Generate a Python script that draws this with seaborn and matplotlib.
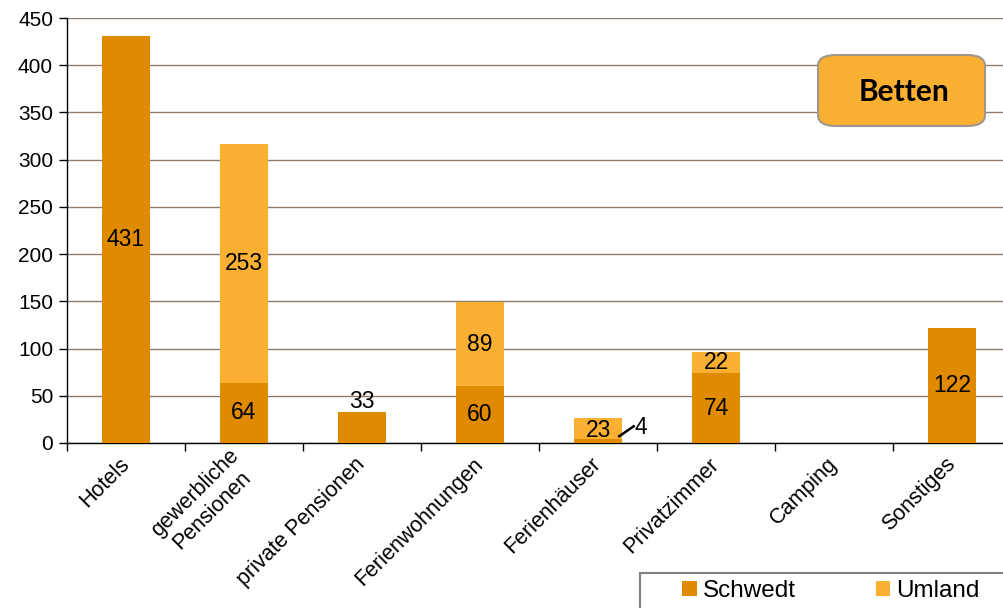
import matplotlib
matplotlib.use("Agg")
import matplotlib.pyplot as plt
import seaborn as sns
import pandas as pd
from matplotlib.patches import FancyBboxPatch, Patch, Rectangle

categories = ["Hotels", "gewerbliche\nPensionen", "private Pensionen", "Ferienwohnungen",
              "Ferienhäuser", "Privatzimmer", "Camping", "Sonstiges"]
schwedt = [431, 64, 33, 60, 4, 74, 0, 122]
umland = [0, 253, 0, 89, 23, 22, 0, 0]
yticks = [0, 50, 100, 150, 200, 250, 300, 350, 400, 450]

C_SCHWEDT = "#E08A00"
C_UMLAND = "#FBB034"

sns.set_theme(style="white")
plt.rcParams["font.family"] = ["Liberation Sans", "DejaVu Sans"]
plt.rcParams["text.color"] = "black"
plt.rcParams["xtick.color"] = "black"
plt.rcParams["ytick.color"] = "black"
plt.rcParams["xtick.labelcolor"] = "black"
plt.rcParams["ytick.labelcolor"] = "black"

df = pd.DataFrame({"cat": categories, "Schwedt": schwedt, "Umland": umland})
df["Total"] = df["Schwedt"] + df["Umland"]

fig = plt.figure(figsize=(10.04, 6.08), dpi=100)
ax = fig.add_axes([67/1004, 1-443/608, (1003-67)/1004, (443-18)/608])

bw = 0.41
sns.barplot(data=df, x="cat", y="Total", color=C_UMLAND, saturation=1, width=bw, ax=ax,
            zorder=2, linewidth=0, edgecolor="none")
sns.barplot(data=df, x="cat", y="Schwedt", color=C_SCHWEDT, saturation=1, width=bw, ax=ax,
            zorder=3, linewidth=0, edgecolor="none")

ax.set_xlim(-0.5, 7.43)
ax.set_ylim(0, 450)
ax.set_yticks(yticks)
ax.set_xlabel("")
ax.set_ylabel("")
ax.yaxis.grid(True, color="#8C7D6E", linewidth=1)
ax.set_axisbelow(True)
for s in ["top", "right"]:
    ax.spines[s].set_visible(False)
for s in ["left", "bottom"]:
    ax.spines[s].set_color("black")
    ax.spines[s].set_linewidth(1)

ax.tick_params(axis="y", which="major", direction="out", length=6, width=1, color="black",
               labelsize=15, pad=4, left=True)
ax.set_xticks(range(len(categories)))
ax.set_xticklabels(categories, rotation=45, ha="right", va="center", rotation_mode="anchor",
                   fontsize=15.5)
for t in ax.get_xticklabels():
    t.set_multialignment("center")
ax.tick_params(axis="x", which="major", length=0, pad=13)
ax.set_xticks([i - 0.5 for i in range(len(categories))], minor=True)
ax.tick_params(axis="x", which="minor", direction="out", length=6, width=1, color="black", bottom=True)

# data labels
LFS = 16.5
offsets = {"private Pensionen": 27}
for i, (cat, s, u) in enumerate(zip(categories, schwedt, umland)):
    if s > 0:
        if s < 10:
            # small value: label beside the bar with a leader line
            ax.plot([i + 0.17, i + 0.31], [6.4, 18.5], color="black", lw=1.8,
                    solid_capstyle="butt", zorder=5)
            ax.text(i + 0.36, 16, str(s), ha="center", va="center", fontsize=LFS, zorder=5)
        else:
            ax.text(i, s / 2 + offsets.get(cat, 0), str(s), ha="center", va="center",
                    fontsize=LFS, zorder=5)
    if u > 0:
        ax.text(i, s + u / 2 - (2 if s < 10 else 0), str(u), ha="center", va="center",
                fontsize=LFS, zorder=5)

# title box
bx0, by0, bw_, bh_ = 818/1004, 1-126/608, 167/1004, 71/608
box = FancyBboxPatch((bx0, by0), bw_, bh_, boxstyle="round,pad=0,rounding_size=0.018",
                     transform=fig.transFigure, facecolor=C_UMLAND, edgecolor="#A0968C",
                     linewidth=1.5, zorder=10)
fig.patches.append(box)
fig.text(bx0 + bw_/2 + 0.002, by0 + bh_/2 - 0.002, "Betten", ha="center", va="center", fontsize=21.5,
         fontweight="bold", color="black", family=["Lato", "DejaVu Sans"], zorder=11)

# legend frame (runs off the figure edge as in the reference)
frame = Rectangle((640/1004, -0.1), 0.5, 0.1 + 35/608, transform=fig.transFigure,
                  facecolor="white", edgecolor="#808080", linewidth=1.5, zorder=5)
fig.patches.append(frame)
handles = [Patch(facecolor=C_SCHWEDT, edgecolor="none"), Patch(facecolor=C_UMLAND, edgecolor="none")]
leg = fig.legend(handles, ["Schwedt", "Umland"], loc="center left",
                 bbox_to_anchor=(682/1004, 1-591/608), ncol=2, fontsize=17.5,
                 frameon=False, handlelength=0.6, handleheight=0.6, handletextpad=0.25,
                 columnspacing=3.3, borderpad=0, borderaxespad=0)
leg.set_zorder(6)

fig.savefig("out.png", dpi=100)
